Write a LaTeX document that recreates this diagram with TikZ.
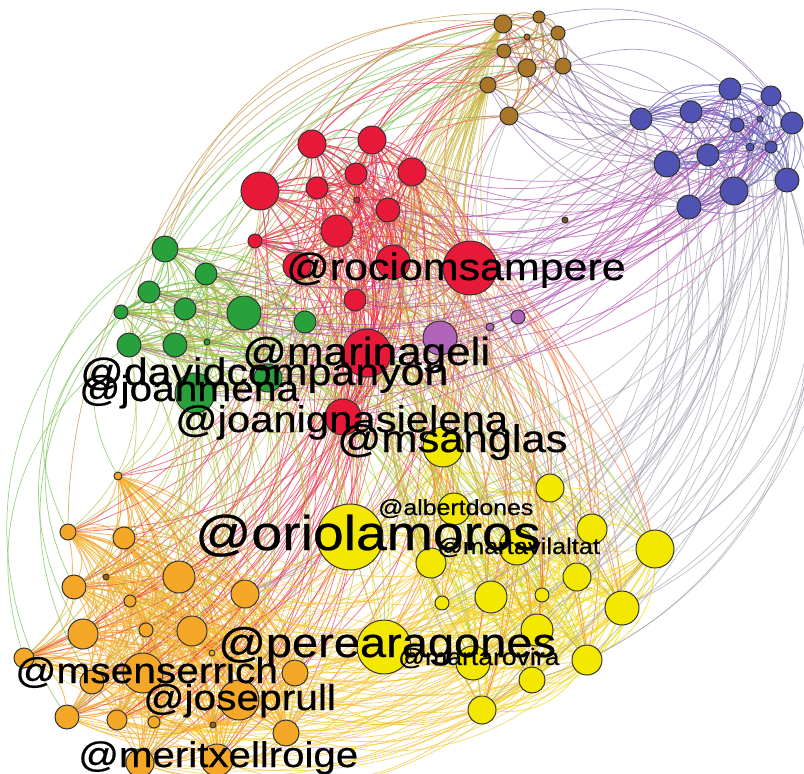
\documentclass[tikz,border=0pt]{standalone}
\usepackage{fontspec}
\setmainfont{Liberation Sans}
\newfontfamily\lblfont{Liberation Sans}[FakeBold=0.5]
\pgfdeclarelayer{bg}
\pgfdeclarelayer{edges}
\pgfdeclarelayer{labels}
\pgfsetlayers{bg,edges,main,labels}
\definecolor{cRed}{RGB}{232,24,56}
\definecolor{cGreen}{RGB}{40,160,60}
\definecolor{cBlue}{RGB}{80,82,180}
\definecolor{cBrown}{RGB}{170,118,40}
\definecolor{cYellow}{RGB}{245,232,0}
\definecolor{cOrange}{RGB}{245,168,40}
\definecolor{cPurple}{RGB}{175,100,185}
\definecolor{eRed}{RGB}{235,40,70}
\definecolor{eGreen}{RGB}{110,190,70}
\definecolor{eBlue}{RGB}{100,95,190}
\definecolor{eBrown}{RGB}{190,140,55}
\definecolor{eYellow}{RGB}{242,225,30}
\definecolor{eOrange}{RGB}{245,165,50}
\definecolor{eRY}{RGB}{242,110,50}
\definecolor{eRG}{RGB}{190,150,60}
\definecolor{eBR}{RGB}{175,70,170}
\definecolor{eBY}{RGB}{165,160,175}
\definecolor{eGY}{RGB}{160,205,60}
\definecolor{eBBr}{RGB}{140,110,160}
\definecolor{eGO}{RGB}{175,190,60}
\definecolor{eYO}{RGB}{245,195,40}
\definecolor{eBrY}{RGB}{200,180,60}
\newcommand\nd[5]{\node[gnode,fill=#5,minimum size=#4*2pt] (#1) at (#2,#3) {};}
\newcommand\intra[3]{%
  \foreach \sA [count=\ci] in #1 {%
    \foreach \sB [count=\cj] in #1 {%
      \ifnum\cj>\ci \draw[inedge,#2] (\sA) to[bend left=#3] (\sB);\fi}}}
\newcommand\inter[5]{%
  \foreach \sA [count=\ci] in #1 {%
    \foreach \sB [count=\cj] in #2 {%
      \pgfmathtruncatemacro\hh{mod(\ci*7+\cj*13+#5,#4)}%
      \ifnum\hh=0 \draw[edgeline,#3] (\sA) to[bend left=30] (\sB);\fi}}}
\newcommand\lbl[4]{\node[lab] (#1) at (#2,#3) {#4};}
\begin{document}
\begin{tikzpicture}[x=1pt,y=-1pt,
  gnode/.style={circle,draw=black!80,line width=1pt,inner sep=0pt},
  edgeline/.style={line width=0.75pt,opacity=0.65},
  inedge/.style={line width=0.9pt,opacity=0.75},
  lab/.style={anchor=base west,inner sep=0pt,text=black,font=\lblfont}]
\begin{pgfonlayer}{bg}
\fill[white] (0,0) rectangle (804,774);
\end{pgfonlayer}
\useasboundingbox (0,0) rectangle (804,774);
% brown
\nd{nb1}{503}{24}{9}{cBrown}
\nd{nb2}{539}{17}{6}{cBrown}
\nd{nb3}{558}{33}{7}{cBrown}
\nd{nb4}{527}{37}{3}{cBrown}
\nd{nb5}{504}{51}{7}{cBrown}
\nd{nb6}{527}{68}{9}{cBrown}
\nd{nb7}{563}{66}{8}{cBrown}
\nd{nb8}{488}{85}{8}{cBrown}
\nd{nb9}{509}{116}{9}{cBrown}
% blue
\nd{nu1}{641}{119}{11}{cBlue}
\nd{nu2}{730}{89}{11}{cBlue}
\nd{nu3}{771}{96}{10}{cBlue}
\nd{nu4}{691}{112}{11}{cBlue}
\nd{nu5}{792}{123}{11}{cBlue}
\nd{nu6}{737}{125}{7}{cBlue}
\nd{nu7}{760}{119}{3}{cBlue}
\nd{nu8}{708}{155}{11}{cBlue}
\nd{nu9}{667}{164}{13}{cBlue}
\nd{nu10}{750}{147}{4}{cBlue}
\nd{nu11}{771}{147}{6}{cBlue}
\nd{nu12}{787}{180}{12}{cBlue}
\nd{nu13}{734}{191}{14}{cBlue}
\nd{nu14}{689}{207}{12}{cBlue}
\nd{nd1}{565}{220}{3}{cBrown!70!black}
% red
\nd{nr1}{312}{144}{14}{cRed}
\nd{nr2}{372}{140}{14}{cRed}
\nd{nr3}{356}{174}{11}{cRed}
\nd{nr4}{317}{188}{11}{cRed}
\nd{nr5}{412}{172}{14}{cRed}
\nd{nr6}{260}{191}{19}{cRed}
\nd{nr7}{357}{200}{3}{cRed}
\nd{nr8}{388}{210}{12}{cRed}
\nd{nr9}{337}{231}{16}{cRed}
\nd{nr10}{255}{241}{7}{cRed}
\nd{nr11}{297}{266}{14}{cRed}
\nd{nr12}{393}{262}{17}{cRed}
\nd{nr13}{470}{268}{27}{cRed}
\nd{nr14}{355}{300}{11}{cRed}
\nd{nr15}{367}{353}{24}{cRed}
\nd{nr16}{343}{417}{18}{cRed}
% purple
\nd{np1}{440}{338}{17}{cPurple}
\nd{np2}{518}{317}{7}{cPurple}
\nd{np3}{490}{327}{4}{cPurple}
% green
\nd{ng1}{165}{249}{13}{cGreen}
\nd{ng2}{206}{274}{11}{cGreen}
\nd{ng3}{149}{292}{11}{cGreen}
\nd{ng4}{121}{312}{7}{cGreen}
\nd{ng5}{185}{309}{11}{cGreen}
\nd{ng6}{244}{313}{17}{cGreen}
\nd{ng7}{305}{322}{11}{cGreen}
\nd{ng8}{129}{345}{12}{cGreen}
\nd{ng9}{175}{345}{12}{cGreen}
\nd{ng10}{207}{342}{3}{cGreen}
\nd{ng11}{195}{393}{20}{cGreen}
\nd{ng12}{268}{378}{14}{cGreen}
% yellow
\nd{ny1}{350}{537}{33}{cYellow}
\nd{ny2}{454}{509}{16}{cYellow}
\nd{ny3}{550}{488}{14}{cYellow}
\nd{ny4}{592}{529}{15}{cYellow}
\nd{ny5}{655}{549}{19}{cYellow}
\nd{ny6}{517}{547}{18}{cYellow}
\nd{ny7}{431}{563}{15}{cYellow}
\nd{ny8}{577}{577}{14}{cYellow}
\nd{ny9}{491}{597}{16}{cYellow}
\nd{ny10}{542}{595}{7}{cYellow}
\nd{ny11}{442}{603}{7}{cYellow}
\nd{ny12}{622}{608}{17}{cYellow}
\nd{ny13}{537}{630}{16}{cYellow}
\nd{ny14}{384}{647}{27}{cYellow}
\nd{ny15}{473}{663}{17}{cYellow}
\nd{ny16}{587}{660}{15}{cYellow}
\nd{ny17}{532}{680}{13}{cYellow}
\nd{ny18}{482}{710}{14}{cYellow}
\nd{ny19}{443}{447}{20}{cYellow}
% orange
\nd{no1}{118}{476}{4}{cOrange}
\nd{no2}{68}{532}{8}{cOrange}
\nd{no3}{124}{538}{11}{cOrange}
\nd{no4}{106}{577}{3}{cOrange!60!black}
\nd{no5}{74}{587}{12}{cOrange}
\nd{no6}{179}{577}{16}{cOrange}
\nd{no7}{130}{601}{6}{cOrange}
\nd{no8}{245}{594}{14}{cOrange}
\nd{no9}{83}{634}{15}{cOrange}
\nd{no10}{146}{630}{7}{cOrange}
\nd{no11}{192}{631}{15}{cOrange}
\nd{no12}{24}{658}{10}{cOrange}
\nd{no13}{92}{682}{12}{cOrange}
\nd{no14}{143}{673}{20}{cOrange}
\nd{no15}{295}{673}{13}{cOrange}
\nd{no16}{239}{700}{20}{cOrange}
\nd{no17}{67}{717}{12}{cOrange}
\nd{no18}{117}{720}{10}{cOrange}
\nd{no19}{154}{722}{6}{cOrange}
\nd{no20}{213}{725}{3}{cOrange!60!black}
\nd{no21}{286}{733}{13}{cOrange}
\nd{no22}{140}{763}{14}{cOrange}
\nd{no23}{217}{760}{16}{cOrange}
\nd{no24}{212}{653}{3}{cOrange}
\begin{pgfonlayer}{edges}
\intra{{nb1,nb2,nb3,nb4,nb5,nb6,nb7,nb8,nb9}}{eBrown}{30}
\intra{{nu1,nu2,nu3,nu4,nu5,nu6,nu7,nu8,nu9,nu10,nu11,nu12,nu13,nu14}}{eBlue}{30}
\intra{{nr1,nr2,nr3,nr4,nr5,nr6,nr7,nr8,nr9,nr10,nr11,nr12,nr13,nr14,nr15,nr16}}{eRed}{30}
\intra{{ng1,ng2,ng3,ng4,ng5,ng6,ng7,ng8,ng9,ng10,ng11,ng12}}{eGreen}{30}
\intra{{ny1,ny2,ny3,ny4,ny5,ny6,ny7,ny8,ny9,ny10,ny11,ny12,ny13,ny14,ny15,ny16,ny17,ny18,ny19}}{eYellow}{30}
\intra{{no1,no2,no3,no4,no5,no6,no7,no8,no9,no10,no11,no12,no13,no14,no15,no16,no17,no18,no19,no20,no21,no22,no23,no24}}{eOrange}{30}
\inter{{nr1,nr2,nr3,nr4,nr5,nr6,nr7,nr8,nr9,nr10,nr11,nr12,nr13,nr14,nr15,nr16}}{{ng1,ng2,ng3,ng4,ng5,ng6,ng7,ng8,ng9,ng10,ng11,ng12}}{eRG}{4}{1}
\inter{{nr1,nr2,nr3,nr4,nr5,nr6,nr7,nr8,nr9,nr10,nr11,nr12,nr13,nr14,nr15,nr16}}{{ny1,ny2,ny3,ny4,ny5,ny6,ny7,ny8,ny9,ny10,ny11,ny12,ny13,ny14,ny15,ny16,ny17,ny18,ny19}}{eRY}{5}{2}
\inter{{nr1,nr2,nr3,nr4,nr5,nr6,nr7,nr8,nr9,nr10,nr11,nr12,nr13,nr14,nr15,nr16}}{{no1,no2,no3,no4,no5,no6,no7,no8,no9,no10,no11,no12,no13,no14,no15,no16,no17,no18,no19,no20,no21,no22,no23,no24}}{eRed}{6}{3}
\inter{{ng1,ng2,ng3,ng4,ng5,ng6,ng7,ng8,ng9,ng10,ng11,ng12}}{{ny1,ny2,ny3,ny4,ny5,ny6,ny7,ny8,ny9,ny10,ny11,ny12,ny13,ny14,ny15,ny16,ny17,ny18,ny19}}{eGY}{5}{1}
\inter{{ng1,ng2,ng3,ng4,ng5,ng6,ng7,ng8,ng9,ng10,ng11,ng12}}{{no1,no2,no3,no4,no5,no6,no7,no8,no9,no10,no11,no12,no13,no14,no15,no16,no17,no18,no19,no20,no21,no22,no23,no24}}{eGO}{6}{2}
\inter{{ny1,ny2,ny3,ny4,ny5,ny6,ny7,ny8,ny9,ny10,ny11,ny12,ny13,ny14,ny15,ny16,ny17,ny18,ny19}}{{no1,no2,no3,no4,no5,no6,no7,no8,no9,no10,no11,no12,no13,no14,no15,no16,no17,no18,no19,no20,no21,no22,no23,no24}}{eYO}{4}{3}
\inter{{nu1,nu2,nu3,nu4,nu5,nu6,nu7,nu8,nu9,nu10,nu11,nu12,nu13,nu14}}{{nr1,nr2,nr3,nr4,nr5,nr6,nr7,nr8,nr9,nr10,nr11,nr12,nr13,nr14,nr15,nr16}}{eBR}{8}{1}
\inter{{nu1,nu2,nu3,nu4,nu5,nu6,nu7,nu8,nu9,nu10,nu11,nu12,nu13,nu14}}{{nb1,nb2,nb3,nb4,nb5,nb6,nb7,nb8,nb9}}{eBBr}{6}{2}
\inter{{nr1,nr2,nr3,nr4,nr5,nr6,nr7,nr8,nr9,nr10,nr11,nr12,nr13,nr14,nr15,nr16}}{{nb1,nb2,nb3,nb4,nb5,nb6,nb7,nb8,nb9}}{eRed}{6}{4}
\inter{{ny1,ny2,ny3,ny4,ny5,ny6,ny7,ny8,ny9,ny10,ny11,ny12,ny13,ny14,ny15,ny16,ny17,ny18,ny19}}{{nb1,nb2,nb3,nb4,nb5,nb6,nb7,nb8,nb9}}{eBrY}{7}{1}
\inter{{ng1,ng2,ng3,ng4,ng5,ng6,ng7,ng8,ng9,ng10,ng11,ng12}}{{nb1,nb2,nb3,nb4,nb5,nb6,nb7,nb8,nb9}}{eGreen}{8}{3}
\inter{{nu1,nu2,nu3,nu4,nu5,nu6,nu7,nu8,nu9,nu10,nu11,nu12,nu13,nu14}}{{ny1,ny2,ny3,ny4,ny5,ny6,ny7,ny8,ny9,ny10,ny11,ny12,ny13,ny14,ny15,ny16,ny17,ny18,ny19}}{eBY}{9}{2}
\inter{{nu1,nu2,nu3,nu4,nu5,nu6,nu7,nu8,nu9,nu10,nu11,nu12,nu13,nu14}}{{ng1,ng2,ng3,ng4,ng5,ng6,ng7,ng8,ng9,ng10,ng11,ng12}}{eBR}{9}{5}
\foreach \sq in {np1,np2,np3} {
  \foreach \st in {nr2,nr9,nr13,nu1,nu9,ng6,ny19,ny3,no8,nb9} {\draw[edgeline,eBY] (\sq) to[bend left=25] (\st);}}
% outer arcs
\foreach \ss/\st/\k in {ng1/no2/45,ng3/no5/40,ng4/no9/38,ng8/no12/35,ng1/no17/45,ng3/no13/40,ng4/no1/30} {
  \draw[edgeline,eGreen] (\ss) to[bend right=\k] (\st);}
\foreach \ss/\st/\k in {nb1/ng1/40,nb5/ng3/45,nb8/nr6/35,nb1/nr1/30,nb5/ng1/38,nb2/ng8/45,nb1/no2/40} {
  \draw[edgeline,eBrown] (\ss) to[bend right=\k] (\st);}
\foreach \ss/\st/\k in {nu12/ny5/40,nu5/ny12/45,nu13/ny3/35,nu14/ny4/35,nu12/ny16/40,nu5/ny5/42,nu3/ny12/45,nu13/ny6/35,nu11/ny8/40,nu12/ny17/45} {
  \draw[edgeline,eBY] (\ss) to[bend left=\k] (\st);}
\foreach \ss/\st/\k in {nb7/nu2/30,nb3/nu3/35,nb6/nu1/25,nb9/nu9/25,nb7/nu4/25,nb2/nu5/35} {
  \draw[edgeline,eBBr] (\ss) to[bend left=\k] (\st);}
\end{pgfonlayer}
\begin{pgfonlayer}{labels}
\lbl{L1}{286}{280}{\scalebox{1.13}[1]{\fontsize{38}{38}\selectfont @rociomsampere}}
\lbl{L2}{242}{365}{\scalebox{1.13}[1]{\fontsize{39}{39}\selectfont @marinageli}}
\lbl{L3}{80}{385}{\scalebox{1.13}[1]{\fontsize{38}{38}\selectfont @davidcompanyon}}
\lbl{L4}{79}{401}{\scalebox{1.13}[1]{\fontsize{36}{36}\selectfont @joanmena}}
\lbl{L5}{175}{432}{\scalebox{1.13}[1]{\fontsize{37}{37}\selectfont @joanignasielena}}
\lbl{L6}{337}{452}{\scalebox{1.13}[1]{\fontsize{38.5}{38.5}\selectfont @msanglas}}
\lbl{L7}{378}{515}{\scalebox{1.13}[1]{\fontsize{22}{22}\selectfont @albertdones}}
\lbl{L8}{195}{550}{\scalebox{1.13}[1]{\fontsize{49}{49}\selectfont @oriolamoros}}
\lbl{L9}{437}{554}{\scalebox{1.13}[1]{\fontsize{22.5}{22.5}\selectfont @martavilaltat}}
\lbl{L10}{218}{657}{\scalebox{1.13}[1]{\fontsize{41.6}{41.6}\selectfont @perearagones}}
\lbl{L11}{398}{665}{\scalebox{1.13}[1]{\fontsize{23.5}{23.5}\selectfont @martarovira}}
\lbl{L12}{15}{683}{\scalebox{1.13}[1]{\fontsize{36}{36}\selectfont @msenserrich}}
\lbl{L13}{143}{710}{\scalebox{1.13}[1]{\fontsize{36}{36}\selectfont @joseprull}}
\lbl{L14}{78}{767}{\scalebox{1.13}[1]{\fontsize{35.6}{35.6}\selectfont @meritxellroige}}
\end{pgfonlayer}
\end{tikzpicture}
\end{document}
